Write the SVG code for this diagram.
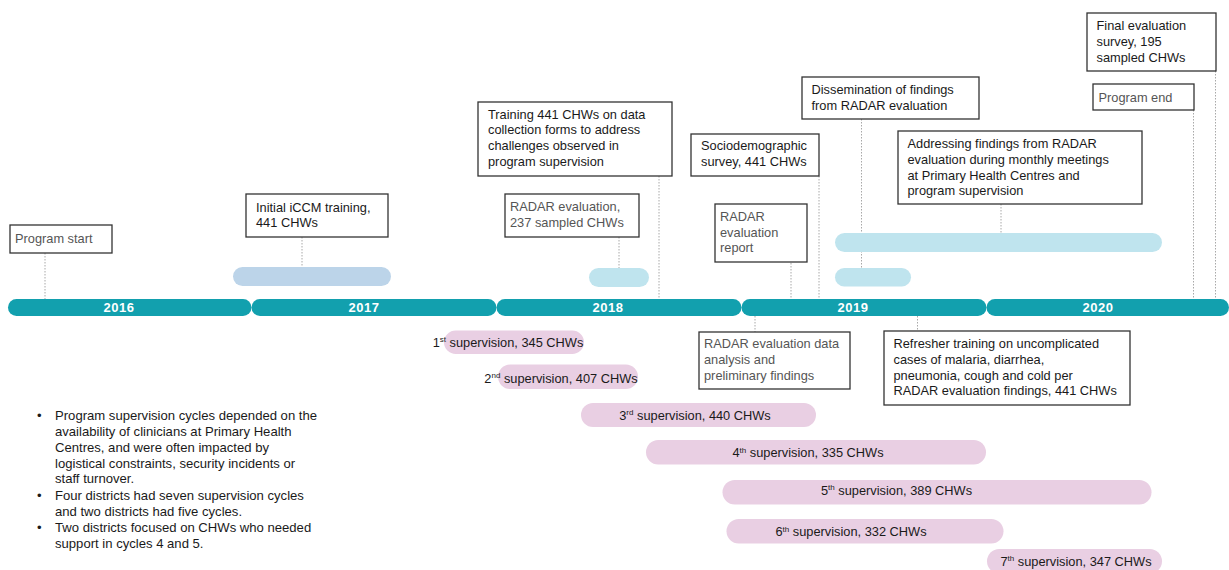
<svg xmlns="http://www.w3.org/2000/svg" width="1229" height="570" viewBox="0 0 1229 570">
<style>
text{font-family:"Liberation Sans",Arial,sans-serif;font-size:12.8px;fill:#1a1a1a}
.g{fill:#555}
.box{fill:#fff;stroke:#333;stroke-width:1.3}
.yr{fill:#12a0ae}
.yt{font-weight:bold;fill:#fff;font-size:13px;text-anchor:middle;letter-spacing:0.5px}
.sb{fill:#bcd4e9}
.cb{fill:#bfe4ee}
.pk{fill:#e9cfe3}
.pt{text-anchor:middle}
.nt{font-size:13.1px}
.con line{stroke:#a8a8a8;stroke-width:1;stroke-dasharray:1.5 1.5}
</style>
<rect width="1229" height="570" fill="#fff"/>

<g id="timeline">
<rect class="yr" x="8" y="299" width="243.5" height="17" rx="8.5"/>
<rect class="yr" x="251.5" y="299" width="245" height="17" rx="8.5"/>
<rect class="yr" x="496.5" y="299" width="245" height="17" rx="8.5"/>
<rect class="yr" x="741.5" y="299" width="245" height="17" rx="8.5"/>
<rect class="yr" x="986.5" y="299" width="242.5" height="17" rx="8.5"/>
<text class="yt" x="119" y="312">2016</text>
<text class="yt" x="364" y="312">2017</text>
<text class="yt" x="608" y="312">2018</text>
<text class="yt" x="853" y="312">2019</text>
<text class="yt" x="1098" y="312">2020</text>
</g>

<g id="connectors" class="con">
<line x1="45" y1="253" x2="45" y2="299"/>
<line x1="302" y1="237" x2="302" y2="267"/>
<line x1="659" y1="176" x2="659" y2="299"/>
<line x1="619" y1="237" x2="619" y2="268"/>
<line x1="819" y1="176" x2="819" y2="299"/>
<line x1="791" y1="263" x2="791" y2="299"/>
<line x1="861.5" y1="119" x2="861.5" y2="268"/>
<line x1="1001" y1="204" x2="1001" y2="233"/>
<line x1="1193.5" y1="110" x2="1193.5" y2="299"/>
<line x1="1215.5" y1="71" x2="1215.5" y2="299"/>
<line x1="755" y1="316" x2="755" y2="332"/>
<line x1="917.5" y1="316" x2="917.5" y2="331"/>
</g>

<g id="bar-iccm"><rect class="sb" x="233" y="267" width="158" height="19" rx="9.5"/></g>
<g id="bar-radar"><rect class="cb" x="589" y="268" width="60" height="19" rx="9.5"/></g>
<g id="bar-dissemination"><rect class="cb" x="835" y="268" width="76" height="18.5" rx="9.2"/></g>
<g id="bar-addressing"><rect class="cb" x="835" y="233" width="327" height="19" rx="9.5"/></g>

<g id="program-start"><rect class="box" x="10" y="225" width="102" height="28"/><text class="g" x="15" y="243">Program start</text></g>
<g id="initial-iccm"><rect class="box" x="246" y="194" width="142" height="43"/><text x="256" y="211.5">Initial iCCM training,</text><text x="256" y="227">441 CHWs</text></g>
<g id="training-forms"><rect class="box" x="478" y="102" width="194" height="74"/><text x="488" y="118.5">Training 441 CHWs on data</text><text x="488" y="134">collection forms to address</text><text x="488" y="150">challenges observed in</text><text x="488" y="166">program supervision</text></g>
<g id="radar-evaluation"><rect class="box" x="505" y="194" width="134" height="43"/><text class="g" x="510" y="211">RADAR evaluation,</text><text class="g" x="510" y="226.5">237 sampled CHWs</text></g>
<g id="sociodemographic"><rect class="box" x="691" y="134" width="128" height="42"/><text x="701" y="150">Sociodemographic</text><text x="701" y="165.5">survey, 441 CHWs</text></g>
<g id="radar-report"><rect class="box" x="715" y="204" width="92" height="58"/><text class="g" x="720" y="221">RADAR</text><text class="g" x="720" y="236.5">evaluation</text><text class="g" x="720" y="252">report</text></g>
<g id="dissemination"><rect class="box" x="802" y="77" width="177" height="42"/><text x="811.5" y="94">Dissemination of findings</text><text x="811.5" y="110">from RADAR evaluation</text></g>
<g id="final-evaluation"><rect class="box" x="1087" y="13" width="129" height="58"/><text x="1096.5" y="30">Final evaluation</text><text x="1096.5" y="46">survey, 195</text><text x="1096.5" y="62">sampled CHWs</text></g>
<g id="program-end"><rect class="box" x="1093" y="84" width="101" height="26"/><text class="g" x="1098.5" y="101.5">Program end</text></g>
<g id="addressing"><rect class="box" x="898" y="131" width="244" height="73"/><text x="907.5" y="148">Addressing findings from RADAR</text><text x="907.5" y="163.5">evaluation during monthly meetings</text><text x="907.5" y="179.5">at Primary Health Centres and</text><text x="907.5" y="195">program supervision</text></g>
<g id="radar-analysis"><rect class="box" x="699" y="332" width="151" height="57"/><text class="g" x="704" y="348">RADAR evaluation data</text><text class="g" x="704" y="363.5">analysis and</text><text class="g" x="704" y="379.5">preliminary findings</text></g>
<g id="refresher"><rect class="box" x="884" y="331" width="246" height="74"/><text x="893.5" y="348">Refresher training on uncomplicated</text><text x="893.5" y="363.5">cases of malaria, diarrhea,</text><text x="893.5" y="379.5">pneumonia, cough and cold per</text><text x="893.5" y="395">RADAR evaluation findings, 441 CHWs</text></g>

<g id="sup1"><rect class="pk" x="444" y="330.5" width="140" height="23.5" rx="11.75"/><text class="pt" x="508" y="346.5">1<tspan font-size="8" dy="-4.5">st</tspan><tspan dy="4.5"> supervision, 345 CHWs</tspan></text></g>
<g id="sup2"><rect class="pk" x="498" y="364.5" width="140" height="24.5" rx="12.25"/><text class="pt" x="561" y="382.5">2<tspan font-size="8" dy="-4.5">nd</tspan><tspan dy="4.5"> supervision, 407 CHWs</tspan></text></g>
<g id="sup3"><rect class="pk" x="581" y="403" width="235" height="24" rx="12"/><text class="pt" x="695" y="419.5">3<tspan font-size="8" dy="-4.5">rd</tspan><tspan dy="4.5"> supervision, 440 CHWs</tspan></text></g>
<g id="sup4"><rect class="pk" x="646" y="440" width="340" height="24.5" rx="12.25"/><text class="pt" x="808" y="457">4<tspan font-size="8" dy="-4.5">th</tspan><tspan dy="4.5"> supervision, 335 CHWs</tspan></text></g>
<g id="sup5"><rect class="pk" x="722.5" y="480" width="429" height="24.5" rx="12.25"/><text class="pt" x="896.5" y="494.5">5<tspan font-size="8" dy="-4.5">th</tspan><tspan dy="4.5"> supervision, 389 CHWs</tspan></text></g>
<g id="sup6"><rect class="pk" x="726.5" y="519" width="277" height="24.5" rx="12.25"/><text class="pt" x="851" y="536">6<tspan font-size="8" dy="-4.5">th</tspan><tspan dy="4.5"> supervision, 332 CHWs</tspan></text></g>
<g id="sup7"><rect class="pk" x="987" y="549" width="175" height="24.5" rx="12.25"/><text class="pt" x="1076" y="565.5">7<tspan font-size="8" dy="-4.5">th</tspan><tspan dy="4.5"> supervision, 347 CHWs</tspan></text></g>

<g id="notes">
<text class="nt" x="37" y="420">•</text>
<text class="nt" x="55" y="420">Program supervision cycles depended on the</text>
<text class="nt" x="55" y="436">availability of clinicians at Primary Health</text>
<text class="nt" x="55" y="451.7">Centres, and were often impacted by</text>
<text class="nt" x="55" y="467.5">logistical constraints, security incidents or</text>
<text class="nt" x="55" y="483.3">staff turnover.</text>
<text class="nt" x="37" y="500">•</text>
<text class="nt" x="55" y="500">Four districts had seven supervision cycles</text>
<text class="nt" x="55" y="516">and two districts had five cycles.</text>
<text class="nt" x="37" y="531.7">•</text>
<text class="nt" x="55" y="531.7">Two districts focused on CHWs who needed</text>
<text class="nt" x="55" y="547.5">support in cycles 4 and 5.</text>
</g>
</svg>
